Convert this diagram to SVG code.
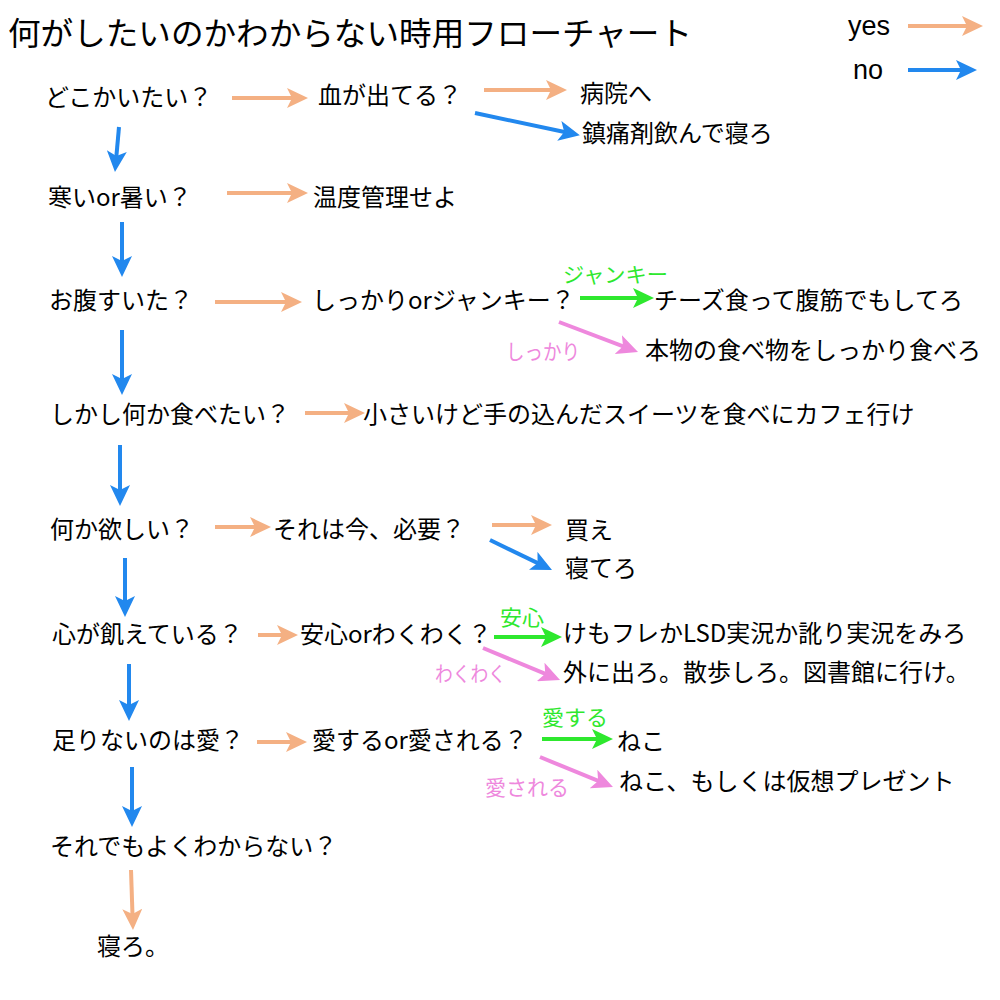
<svg xmlns="http://www.w3.org/2000/svg" width="1000" height="1000" viewBox="0 0 1000 1000">
<style>
  .t { font-family: "Noto Sans CJK JP", "Noto Sans", sans-serif; font-size: 24px; fill: #000; }
  .title { font-family: "Noto Sans CJK JP", "Noto Sans", sans-serif; font-size: 32px; fill: #000; }
  .lg { font-family: "Liberation Sans", Arial, sans-serif; font-size: 27px; fill: #000; }
  .lb { font-family: "Noto Sans CJK JP", "Noto Sans", sans-serif; font-size: 21px; }
  .g { fill: #2EE82E; }
  .p { fill: #EE88DD; }
  .yes { stroke: #F4B083; stroke-width: 4; fill: none; marker-end: url(#aY); }
  .no { stroke: #2288EE; stroke-width: 4; fill: none; marker-end: url(#aN); }
  .gr { stroke: #2EE82E; stroke-width: 4; fill: none; marker-end: url(#aG); }
  .pk { stroke: #EE88DD; stroke-width: 4; fill: none; marker-end: url(#aP); }
</style>
<defs>
  <marker id="aY" viewBox="0 0 21 20" refX="15" refY="10" markerWidth="21" markerHeight="20" markerUnits="userSpaceOnUse" orient="auto"><path d="M0,0 L21,10 L0,20 L5,10 z" fill="#F4B083"/></marker>
  <marker id="aN" viewBox="0 0 21 20" refX="15" refY="10" markerWidth="21" markerHeight="20" markerUnits="userSpaceOnUse" orient="auto"><path d="M0,0 L21,10 L0,20 L5,10 z" fill="#2288EE"/></marker>
  <marker id="aG" viewBox="0 0 21 20" refX="15" refY="10" markerWidth="21" markerHeight="20" markerUnits="userSpaceOnUse" orient="auto"><path d="M0,0 L21,10 L0,20 L5,10 z" fill="#2EE82E"/></marker>
  <marker id="aP" viewBox="0 0 21 20" refX="15" refY="10" markerWidth="21" markerHeight="20" markerUnits="userSpaceOnUse" orient="auto"><path d="M0,0 L21,10 L0,20 L5,10 z" fill="#EE88DD"/></marker>
</defs>
<rect x="0" y="0" width="1000" height="1000" fill="#fff"/>

<g id="title"><text class="title" x="8" y="45" textLength="684" lengthAdjust="spacingAndGlyphs">何がしたいのかわからない時用フローチャート</text></g>
<g id="legend">
  <text class="lg" x="848" y="35">yes</text>
  <text class="lg" x="853" y="79">no</text>
</g>

<g id="n1"><text class="t" x="45" y="106">どこかいたい？</text></g>
<g id="n2"><text class="t" x="318" y="104">血が出てる？</text></g>
<g id="n3"><text class="t" x="580" y="102">病院へ</text></g>
<g id="n4"><text class="t" x="582" y="142">鎮痛剤飲んで寝ろ</text></g>
<g id="n5"><text class="t" x="48" y="206">寒いor暑い？</text></g>
<g id="n6"><text class="t" x="313" y="206">温度管理せよ</text></g>
<g id="n7"><text class="t" x="49" y="309">お腹すいた？</text></g>
<g id="n8"><text class="t" x="312" y="309">しっかりorジャンキー？</text></g>
<g id="n9"><text class="t" x="654" y="309">チーズ食って腹筋でもしてろ</text></g>
<g id="n10"><text class="t" x="645" y="359">本物の食べ物をしっかり食べろ</text></g>
<g id="n11"><text class="t" x="50" y="423">しかし何か食べたい？</text></g>
<g id="n12"><text class="t" x="363" y="423">小さいけど手の込んだスイーツを食べにカフェ行け</text></g>
<g id="n13"><text class="t" x="50" y="538">何か欲しい？</text></g>
<g id="n14"><text class="t" x="273" y="538">それは今、必要？</text></g>
<g id="n15"><text class="t" x="565" y="539">買え</text></g>
<g id="n16"><text class="t" x="565" y="577">寝てろ</text></g>
<g id="n17"><text class="t" x="52" y="643">心が飢えている？</text></g>
<g id="n18"><text class="t" x="300" y="643">安心orわくわく？</text></g>
<g id="n19"><text class="t" x="563" y="642">けもフレかLSD実況か訛り実況をみろ</text></g>
<g id="n20"><text class="t" x="563" y="681">外に出ろ。散歩しろ。図書館に行け。</text></g>
<g id="n21"><text class="t" x="52" y="749">足りないのは愛？</text></g>
<g id="n22"><text class="t" x="312" y="749">愛するor愛される？</text></g>
<g id="n23"><text class="t" x="617" y="750">ねこ</text></g>
<g id="n24"><text class="t" x="619" y="790">ねこ、もしくは仮想プレゼント</text></g>
<g id="n25"><text class="t" x="50" y="855">それでもよくわからない？</text></g>
<g id="n26"><text class="t" x="97" y="955">寝ろ。</text></g>

<g id="connectors">
  <line class="yes" x1="908" y1="26" x2="977" y2="26"/>
  <line class="no" x1="908" y1="70" x2="971" y2="70"/>

  <line class="yes" x1="232" y1="98" x2="302" y2="98"/>
  <line class="yes" x1="484" y1="90" x2="561" y2="90"/>
  <line class="no" x1="475" y1="113" x2="574" y2="134"/>
  <line class="no" x1="119" y1="127" x2="115.5" y2="166"/>

  <line class="yes" x1="227" y1="193" x2="302" y2="193"/>
  <line class="no" x1="122" y1="222" x2="122" y2="271"/>

  <line class="yes" x1="215" y1="302" x2="296" y2="302"/>
  <line class="gr" x1="580" y1="298" x2="648" y2="298"/>
  <line class="pk" x1="559" y1="322" x2="632.4" y2="349.9"/>
  <line class="no" x1="122" y1="330" x2="122" y2="389"/>

  <line class="yes" x1="305" y1="413" x2="359" y2="413"/>
  <line class="no" x1="120" y1="445" x2="120" y2="500"/>

  <line class="yes" x1="215" y1="527" x2="265" y2="527"/>
  <line class="yes" x1="492" y1="525" x2="546" y2="525"/>
  <line class="no" x1="490" y1="540" x2="546.6" y2="567.4"/>
  <line class="no" x1="125" y1="558" x2="125" y2="611"/>

  <line class="yes" x1="258" y1="635" x2="292" y2="635"/>
  <line class="gr" x1="494" y1="637" x2="556" y2="637"/>
  <line class="pk" x1="483" y1="648" x2="554.5" y2="677.7"/>
  <line class="no" x1="129" y1="664" x2="129" y2="715"/>

  <line class="yes" x1="257" y1="742" x2="301" y2="742"/>
  <line class="gr" x1="542" y1="739" x2="607" y2="739"/>
  <line class="pk" x1="540" y1="757" x2="607.4" y2="784.7"/>
  <line class="no" x1="132" y1="767" x2="132" y2="821"/>

  <line class="yes" x1="131" y1="870" x2="132.8" y2="924"/>
</g>

<g id="labels">
  <text class="lb g" x="563" y="282" textLength="105" lengthAdjust="spacingAndGlyphs">ジャンキー</text>
  <text class="lb p" x="506" y="359" textLength="74" lengthAdjust="spacingAndGlyphs">しっかり</text>
  <text class="lb g" x="500" y="625" textLength="44" lengthAdjust="spacingAndGlyphs">安心</text>
  <text class="lb p" x="435" y="681" textLength="71" lengthAdjust="spacingAndGlyphs">わくわく</text>
  <text class="lb g" x="542" y="725" textLength="66" lengthAdjust="spacingAndGlyphs">愛する</text>
  <text class="lb p" x="485" y="795" textLength="84" lengthAdjust="spacingAndGlyphs">愛される</text>
</g>
</svg>
